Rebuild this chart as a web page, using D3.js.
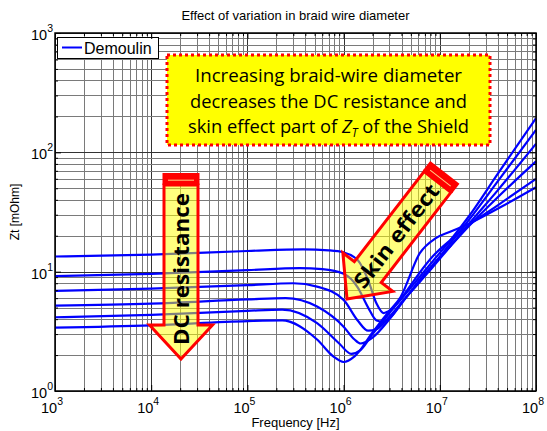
<!DOCTYPE html>
<html>
<head>
<meta charset="utf-8">
<script src="https://cdn.jsdelivr.net/npm/d3@7"></script>
<style>
  body { margin: 0; background: #fff; }
  svg { display: block; font-family: Arial, "Liberation Sans", sans-serif; }
</style>
</head>
<body>
<script>
const width = 547;
const height = 431;
const margin = { left: 55, right: 536, top: 33, bottom: 391 };

const titleText = "Effect of variation in braid wire diameter";
const xLabel = "Frequency [Hz]";
const yLabel = "Zt [mOhm]";
const seriesName = "Demoulin";
const xTickExponents = [3, 4, 5, 6, 7, 8];
const yTickExponents = [0, 1, 2, 3];
const noteLines = ["Increasing braid-wire diameter", "decreases the DC resistance and"];

// [frequency Hz, Zt mOhm], thinnest wire first
const curveA = [[1e3, 13.4], [1e4, 13.9], [1e5, 14.9], [3.8e5, 15.4], [7e5, 15.1], [1e6, 14.5], [1.4e6, 12.5], [1.8e6, 8.5], [2.2e6, 5.4], [2.6e6, 4.5], [3.1e6, 4.8], [3.9e6, 5.8], [6e6, 8.8], [8.5e6, 12.3], [1.3e7, 18.5], [2e7, 29], [4e7, 66], [1e8, 193]];
const curveB = [[1e3, 9.2], [1e4, 9.6], [1e5, 10.3], [3.5e5, 10.7], [6e5, 10.5], [1e6, 9.6], [1.4e6, 7.4], [1.8e6, 5.0], [2.2e6, 3.9], [2.6e6, 3.8], [3.2e6, 4.3], [4e6, 5.5], [6e6, 8.0], [8.5e6, 11.3], [1.3e7, 17.5], [2e7, 27], [4e7, 57], [1e8, 154]];
const curveC = [[1e3, 6.9], [1e4, 7.2], [1e5, 7.7], [3e5, 8.0], [5.3e5, 7.5], [1e6, 5.8], [1.4e6, 3.9], [1.8e6, 3.2], [2.2e6, 3.3], [3e6, 4.2], [4e6, 5.5], [6e6, 8.0], [8.5e6, 11.0], [1.3e7, 16.5], [2e7, 25], [4e7, 48], [1e8, 118]];
const curveD = [[1e3, 5.2], [1e4, 5.4], [1e5, 5.85], [2.5e5, 6.0], [5.3e5, 5.1], [1e6, 3.46], [1.3e6, 2.7], [1.5e6, 2.5], [2e6, 2.8], [3e6, 4.0], [4e6, 5.4], [6e6, 8.3], [8.5e6, 11.5], [1.3e7, 16.5], [2e7, 24], [4e7, 42], [1e8, 84]];
const curveE = [[1e3, 4.15], [1e4, 4.35], [1e5, 4.7], [2.3e5, 4.8], [5.3e5, 3.7], [9e5, 2.5], [1.2e6, 2.05], [1.5e6, 2.2], [2e6, 3.0], [3e6, 4.5], [4e6, 6.0], [6e6, 9.5], [8.5e6, 13.5], [1.3e7, 18.5], [2e7, 24.5], [4e7, 36], [1e8, 60]];
const curveF = [[1e3, 3.4], [1e4, 3.55], [1e5, 3.85], [2.3e5, 3.9], [5.3e5, 2.7], [7.8e5, 1.95], [1e6, 1.75], [1.3e6, 1.95], [2e6, 3.1], [3e6, 4.7], [3.9e6, 6.1], [6.2e6, 14.3], [9e6, 19], [1.28e7, 21.6], [1.9e7, 24.7], [4.3e7, 34.8], [1e8, 51]];
const curves = [curveA, curveB, curveC, curveD, curveE, curveF];

const svg = d3.select("body").append("svg")
  .attr("width", width)
  .attr("height", height);

const x = d3.scaleLog().domain([1e3, 1e8]).range([margin.left, margin.right]);
const y = d3.scaleLog().domain([1, 1000]).range([margin.bottom, margin.top]);

const majorX = xTickExponents.map((e) => 10 ** e);
const majorY = yTickExponents.map((e) => 10 ** e);
const isMajor = (v, list) => list.some((m) => Math.abs(v / m - 1) < 1e-9);
const minorX = x.ticks().filter((v) => !isMajor(v, majorX));
const minorY = y.ticks().filter((v) => !isMajor(v, majorY));
const px = (v) => Math.round(v) + 0.5;

// grid
const grid = svg.append("g");
grid.selectAll(".gx").data(x.ticks()).join("line")
  .attr("x1", (d) => px(x(d))).attr("x2", (d) => px(x(d)))
  .attr("y1", margin.top).attr("y2", margin.bottom)
  .attr("stroke", (d) => (isMajor(d, majorX) ? "#333" : "#7a7a7a"))
  .attr("stroke-width", 1);
grid.selectAll(".gy").data(y.ticks()).join("line")
  .attr("y1", (d) => px(y(d))).attr("y2", (d) => px(y(d)))
  .attr("x1", margin.left).attr("x2", margin.right)
  .attr("stroke", (d) => (isMajor(d, majorY) ? "#333" : "#7a7a7a"))
  .attr("stroke-width", 1);

// curves
const line = d3.line()
  .x((d) => x(d[0]))
  .y((d) => y(d[1]))
  .curve(d3.curveMonotoneX);
svg.append("g").selectAll("path").data(curves).join("path")
  .attr("d", line)
  .attr("fill", "none")
  .attr("stroke", "#0000ff")
  .attr("stroke-width", 2.2);

// block arrows
function drawArrow(tipX, tipY, angle, len, label, labelPos, labelLen) {
  const bodyW = 34, headW = 63, headL = 34, capH = 12;
  const g = svg.append("g").attr("transform", `translate(${tipX},${tipY}) rotate(${angle})`);
  const end = -(len - capH);
  g.append("path")
    .attr("d", `M0,0 L${headW / 2},${-headL} L${bodyW / 2},${-headL} L${bodyW / 2},${end} L${-bodyW / 2},${end} L${-bodyW / 2},${-headL} L${-headW / 2},${-headL} Z`)
    .attr("fill", "#ffff00")
    .attr("fill-opacity", 0.5)
    .attr("stroke", "#ff0000")
    .attr("stroke-width", 3);
  g.append("rect")
    .attr("x", -bodyW / 2 - 1.5).attr("y", -len)
    .attr("width", bodyW + 3).attr("height", capH)
    .attr("fill", "#ff0000");
  g.append("line")
    .attr("x1", -bodyW / 2 + 4).attr("x2", bodyW / 2 - 4)
    .attr("y1", -len + capH * 0.6).attr("y2", -len + capH * 0.6)
    .attr("stroke", "#ffd080").attr("stroke-width", 1);
  g.append("text")
    .attr("transform", `translate(0,${-labelPos}) rotate(-90)`)
    .attr("text-anchor", "middle")
    .attr("dominant-baseline", "central")
    .attr("font-family", "'Open Sans', 'Noto Sans', sans-serif")
    .attr("font-weight", "bold")
    .attr("font-size", 21)
    .attr("textLength", labelLen)
    .attr("lengthAdjust", "spacingAndGlyphs")
    .text(label);
}
drawArrow(181, 359, 0, 186, "DC resistance", 90, 152);
drawArrow(347, 299, 37.7, 160, "Skin effect", 80, 125);

// note box
const note = svg.append("g");
note.append("rect")
  .attr("x", 167).attr("y", 55).attr("width", 323).attr("height", 90)
  .attr("fill", "#ffff00")
  .attr("stroke", "#ff0000").attr("stroke-width", 3)
  .attr("stroke-dasharray", "3,3");
const noteFont = "'Open Sans', 'Noto Sans', sans-serif";
note.selectAll(".nl").data(noteLines).join("text")
  .attr("x", 328.5).attr("y", (d, i) => 82 + i * 25.5)
  .attr("text-anchor", "middle")
  .attr("font-family", noteFont).attr("font-size", 19)
  .attr("textLength", (d, i) => [267, 277][i])
  .attr("lengthAdjust", "spacingAndGlyphs")
  .text((d) => d);
const l3 = note.append("text")
  .attr("x", 328.5).attr("y", 133)
  .attr("text-anchor", "middle")
  .attr("font-family", noteFont).attr("font-size", 19)
  .attr("textLength", 281)
  .attr("lengthAdjust", "spacingAndGlyphs");
l3.append("tspan").text("skin effect part of ");
l3.append("tspan").attr("font-style", "italic").text("Z");
l3.append("tspan").attr("font-style", "italic").attr("font-size", 12).attr("dy", 4).text("T");
l3.append("tspan").attr("dy", -4).text(" of the Shield");

// legend
const legend = svg.append("g");
legend.append("rect")
  .attr("x", 57.5).attr("y", 37.5).attr("width", 101).attr("height", 21)
  .attr("fill", "#fff").attr("stroke", "#000").attr("stroke-width", 1);
legend.append("line")
  .attr("x1", 62).attr("x2", 82).attr("y1", 47.5).attr("y2", 47.5)
  .attr("stroke", "#0000ff").attr("stroke-width", 2);
legend.append("text")
  .attr("x", 84).attr("y", 54).attr("font-size", 16).text(seriesName);

// axes: ticks inside on all four sides
const axisMakers = [
  [() => d3.axisBottom(x), `translate(0,${margin.bottom})`, majorX, minorX],
  [() => d3.axisTop(x), `translate(0,${margin.top})`, majorX, minorX],
  [() => d3.axisLeft(y), `translate(${margin.left},0)`, majorY, minorY],
  [() => d3.axisRight(y), `translate(${margin.right},0)`, majorY, minorY],
];
axisMakers.forEach(([make, tr, maj, min]) => {
  [[maj, -6], [min, -3]].forEach(([vals, size]) => {
    svg.append("g")
      .attr("transform", tr)
      .call(make().tickValues(vals).tickSize(size).tickSizeOuter(0).tickFormat(""))
      .call((g) => g.select(".domain").remove())
      .call((g) => g.selectAll(".tick line").attr("stroke", "#000"));
  });
});
svg.append("rect")
  .attr("x", margin.left).attr("y", margin.top)
  .attr("width", margin.right - margin.left).attr("height", margin.bottom - margin.top)
  .attr("fill", "none").attr("stroke", "#000").attr("stroke-width", 1.5);

// tick labels with superscripts
xTickExponents.forEach((e) => {
  const t = svg.append("text")
    .attr("x", x(10 ** e) - 3).attr("y", margin.bottom + 22)
    .attr("text-anchor", "middle").attr("font-size", 14.5);
  t.append("tspan").text("10");
  t.append("tspan").attr("dy", -8).attr("font-size", 10.5).text(e);
});
yTickExponents.forEach((e) => {
  const t = svg.append("text")
    .attr("x", margin.left - 2).attr("y", y(10 ** e) + 7)
    .attr("text-anchor", "end").attr("font-size", 14.5);
  t.append("tspan").text("10");
  t.append("tspan").attr("dy", -8).attr("font-size", 10.5).text(e);
});

// titles
svg.append("text")
  .attr("x", (margin.left + margin.right) / 2).attr("y", 20)
  .attr("text-anchor", "middle").attr("font-size", 13)
  .text(titleText);
svg.append("text")
  .attr("x", (margin.left + margin.right) / 2).attr("y", 427)
  .attr("text-anchor", "middle").attr("font-size", 13)
  .text(xLabel);
svg.append("text")
  .attr("transform", `translate(19,${(margin.top + margin.bottom) / 2}) rotate(-90)`)
  .attr("text-anchor", "middle").attr("font-size", 12)
  .text(yLabel);
</script>
</body>
</html>
